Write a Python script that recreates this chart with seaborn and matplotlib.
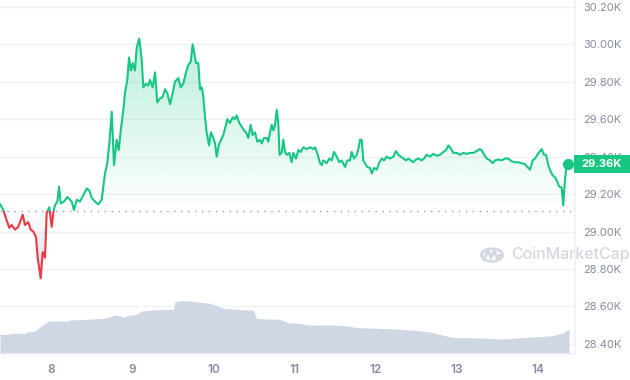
import numpy as np
import pandas as pd
import matplotlib
matplotlib.use("Agg")
import matplotlib.pyplot as plt
from matplotlib.patches import Rectangle, Circle
from matplotlib.lines import Line2D
import seaborn as sns

# Prix BTC (en milliers USD), position en jours
days = [7.372, 7.413, 7.454, 7.486, 7.516, 7.557, 7.597, 7.651, 7.680, 7.720,
        7.750, 7.782, 7.815, 7.836, 7.873, 7.898, 7.926, 7.947, 7.979, 8.009,
        8.028, 8.049, 8.078, 8.099, 8.119, 8.160, 8.201, 8.234, 8.255, 8.283,
        8.317, 8.357, 8.398, 8.440, 8.472, 8.501, 8.542, 8.583, 8.624, 8.665,
        8.693, 8.718, 8.748, 8.776, 8.809, 8.834, 8.859, 8.891, 8.911, 8.940,
        8.961, 8.985, 9.006, 9.034, 9.055, 9.087, 9.117, 9.137, 9.170, 9.198,
        9.219, 9.252, 9.281, 9.309, 9.342, 9.376, 9.404, 9.432, 9.466, 9.499,
        9.527, 9.568, 9.597, 9.629, 9.663, 9.691, 9.720, 9.745, 9.765, 9.786,
        9.814, 9.835, 9.856, 9.876, 9.897, 9.917, 9.946, 9.970, 9.999, 10.020,
        10.041, 10.065, 10.094, 10.122, 10.155, 10.171, 10.204, 10.238, 10.266, 10.287,
        10.319, 10.349, 10.377, 10.401, 10.430, 10.459, 10.484, 10.512, 10.541, 10.574,
        10.595, 10.623, 10.656, 10.676, 10.697, 10.718, 10.738, 10.759, 10.780, 10.799,
        10.814, 10.841, 10.861, 10.882, 10.903, 10.935, 10.964, 10.984, 11.017, 11.046,
        11.075, 11.107, 11.149, 11.190, 11.230, 11.251, 11.279, 11.313, 11.334, 11.353,
        11.395, 11.427, 11.457, 11.485, 11.518, 11.550, 11.580, 11.621, 11.649, 11.682,
        11.703, 11.732, 11.765, 11.790, 11.805, 11.826, 11.846, 11.867, 11.895, 11.929,
        11.950, 11.978, 12.011, 12.039, 12.073, 12.101, 12.134, 12.175, 12.216, 12.249,
        12.277, 12.307, 12.339, 12.372, 12.400, 12.430, 12.462, 12.495, 12.523, 12.565,
        12.593, 12.626, 12.667, 12.708, 12.749, 12.791, 12.831, 12.865, 12.893, 12.922,
        12.954, 12.996, 13.037, 13.078, 13.119, 13.160, 13.201, 13.243, 13.275, 13.304,
        13.333, 13.366, 13.406, 13.440, 13.468, 13.509, 13.551, 13.591, 13.632, 13.673,
        13.714, 13.755, 13.796, 13.837, 13.866, 13.899, 13.932, 13.961, 13.989, 14.014,
        14.043, 14.071, 14.096, 14.124, 14.154, 14.178, 14.207, 14.235, 14.259, 14.289,
        14.308, 14.330, 14.351, 14.371]
price = [29.147, 29.115, 29.06, 29.02, 29.035, 29.01, 29.025, 29.09, 29.035, 29.05,
         29.01, 29.00, 28.97, 28.86, 28.75, 28.89, 28.86, 29.10, 29.13, 29.025,
         29.10, 29.14, 29.16, 29.24, 29.15, 29.16, 29.185, 29.17, 29.16, 29.115,
         29.17, 29.16, 29.195, 29.23, 29.22, 29.18, 29.16, 29.145, 29.17, 29.31,
         29.365, 29.47, 29.64, 29.355, 29.49, 29.435, 29.54, 29.65, 29.74, 29.81,
         29.93, 29.86, 29.90, 29.86, 29.98, 30.03, 29.92, 29.77, 29.79, 29.78,
         29.81, 29.77, 29.85, 29.69, 29.71, 29.72, 29.76, 29.74, 29.68, 29.74,
         29.80, 29.82, 29.77, 29.79, 29.85, 29.89, 29.905, 30.00, 29.95, 29.90,
         29.90, 29.76, 29.77, 29.72, 29.61, 29.53, 29.46, 29.53, 29.50, 29.47,
         29.40, 29.46, 29.49, 29.515, 29.57, 29.60, 29.58, 29.61, 29.60, 29.62,
         29.58, 29.56, 29.54, 29.53, 29.50, 29.57, 29.515, 29.53, 29.48, 29.49,
         29.47, 29.50, 29.50, 29.48, 29.53, 29.57, 29.54, 29.57, 29.65, 29.58,
         29.41, 29.42, 29.49, 29.425, 29.41, 29.42, 29.37, 29.42, 29.39, 29.435,
         29.425, 29.45, 29.44, 29.45, 29.44, 29.45, 29.42, 29.365, 29.355, 29.38,
         29.365, 29.39, 29.38, 29.425, 29.40, 29.37, 29.38, 29.345, 29.38, 29.38,
         29.425, 29.39, 29.41, 29.45, 29.49, 29.49, 29.38, 29.365, 29.345, 29.34,
         29.31, 29.34, 29.33, 29.365, 29.39, 29.38, 29.40, 29.39, 29.40, 29.43,
         29.41, 29.40, 29.39, 29.38, 29.39, 29.38, 29.37, 29.385, 29.39, 29.38,
         29.39, 29.41, 29.40, 29.415, 29.405, 29.41, 29.425, 29.435, 29.46, 29.445,
         29.42, 29.42, 29.41, 29.42, 29.415, 29.42, 29.42, 29.43, 29.44, 29.435,
         29.41, 29.39, 29.38, 29.365, 29.38, 29.385, 29.38, 29.39, 29.39, 29.375,
         29.37, 29.37, 29.365, 29.36, 29.345, 29.33, 29.38, 29.39, 29.41, 29.425,
         29.44, 29.41, 29.41, 29.355, 29.32, 29.30, 29.29, 29.265, 29.24, 29.235,
         29.14, 29.28, 29.355, 29.36]
base_price = 29.11
last_label = "29.36K"

# Volume (Mds USD, estimé)
vol_days = [7.372, 7.474, 7.495, 7.680, 7.701, 7.782, 7.824, 7.885, 7.947, 7.988,
            8.193, 8.234, 8.440, 8.644, 8.727, 8.788, 8.850, 8.890, 8.932, 9.055,
            9.117, 9.260, 9.425, 9.507, 9.527, 9.589, 9.712, 9.835, 9.958, 10.041,
            10.122, 10.287, 10.491, 10.533, 10.656, 10.820, 10.922, 11.046, 11.169, 11.498,
            11.621, 11.785, 12.031, 12.319, 12.523, 12.688, 12.852, 12.975, 13.181, 13.345,
            13.591, 13.755, 14.001, 14.166, 14.289, 14.379]
volume = [6.57, 6.57, 6.9, 6.9, 7.43, 7.43, 8.0, 9.43, 10.57, 11.0,
          11.0, 11.33, 11.57, 11.9, 12.43, 13.0, 12.67, 12.23, 12.77, 13.23,
          14.33, 14.67, 14.9, 14.9, 17.43, 17.77, 17.67, 17.23, 16.9, 16.1,
          15.23, 14.9, 14.57, 11.9, 11.67, 11.57, 10.43, 10.23, 9.67, 9.67,
          9.43, 8.77, 8.57, 8.23, 7.77, 7.23, 6.1, 5.43, 5.43, 5.23,
          5.0, 5.43, 5.77, 6.1, 6.9, 8.23]
vol_top = 118

y_ticks = [28.4, 28.6, 28.8, 29.0, 29.2, 29.4, 29.6, 29.8, 30.0, 30.2]
x_ticks = [8, 9, 10, 11, 12, 13, 14]

GREEN = "#16c784"
RED = "#ea3943"
GRID = "#eff2f5"
TXT = "#858ca2"

sns.set_theme(style="white")
plt.rcParams["font.family"] = ["Inter", "DejaVu Sans"]

df = pd.DataFrame({"day": days, "price": price})
x0, x1 = 7.372, 14.453
y0, y1 = 28.346, 30.2366

fig = plt.figure(figsize=(6.3, 3.8), dpi=100)
ax = fig.add_axes([0, 26 / 380, 575 / 630, 354 / 380])
ax.set_axisbelow(True)

# volume en arrière-plan (y en fraction d'axe)
ax.fill_between(vol_days, np.array(volume) / vol_top, 0, transform=ax.get_xaxis_transform(),
                color="#cfd6e4", lw=0, zorder=1)

p = np.array(price)
d = np.array(days)

# dégradé vert au-dessus de la référence
up = ax.fill_between(d, np.maximum(p, base_price), base_price, color="none", lw=0)
g = np.zeros((256, 1, 4))
g[..., 0], g[..., 1], g[..., 2] = 22 / 255, 199 / 255, 132 / 255
g[:, 0, 3] = np.linspace(0.0, 0.3, 256)
im = ax.imshow(g, extent=[x0, x1, base_price, 30.05], origin="lower", aspect="auto", zorder=2)
im.set_clip_path(up.get_paths()[0], transform=ax.transData)

# dégradé gris sous la référence
dn = ax.fill_between(d, np.minimum(p, base_price), base_price, color="none", lw=0)
g2 = np.zeros((256, 1, 4))
g2[..., 0], g2[..., 1], g2[..., 2] = 0.62, 0.66, 0.74
g2[:, 0, 3] = np.linspace(0.45, 0.0, 256)
im2 = ax.imshow(g2, extent=[x0, x1, 28.74, base_price], origin="lower", aspect="auto", zorder=2)
im2.set_clip_path(dn.get_paths()[0], transform=ax.transData)

# ligne de prix : verte au-dessus, rouge en dessous
sns.lineplot(data=df, x="day", y="price", ax=ax, color=GREEN, lw=1.5, zorder=4)
sns.lineplot(data=df, x="day", y="price", ax=ax, color=RED, lw=1.5, zorder=4)
ax.lines[0].set_clip_path(Rectangle((x0, base_price), x1 - x0, 5, transform=ax.transData))
ax.lines[1].set_clip_path(Rectangle((x0, base_price - 5), x1 - x0, 5, transform=ax.transData))
ax.plot([days[-1]], [price[-1]], "o", color=GREEN, ms=7, zorder=5)

ax.axhline(base_price, color="#9aa0ab", lw=1, ls=(0, (1, 4)), zorder=3)

ax.set_xlim(x0, x1)
ax.set_ylim(y0, y1)
ax.set_xlabel("")
ax.set_ylabel("")
ax.set_xticks(x_ticks)
ax.set_xticklabels([str(t) for t in x_ticks])
ax.set_yticks(y_ticks)
ax.set_yticklabels([f"{t:.2f}K" for t in y_ticks])
ax.yaxis.tick_right()
ax.grid(axis="y", color=GRID, lw=1)
ax.grid(axis="x", visible=False)
ax.tick_params(axis="y", length=0, pad=6, labelsize=8, labelcolor=TXT)
ax.tick_params(axis="x", length=2.5, width=0.8, color="#d5d9e0", pad=5, labelsize=8.5, labelcolor=TXT)
for lab in ax.get_xticklabels():
    lab.set_fontweight("semibold")
for s in ["top", "left"]:
    ax.spines[s].set_visible(False)
ax.spines["right"].set_color(GRID)
ax.spines["bottom"].set_color(GRID)
ax.patch.set_visible(False)


def px(x, y):
    return x / 630, 1 - y / 380


# étiquette du dernier prix
fig.patches.append(Rectangle(px(574, 173.5), 56 / 630, 18.5 / 380, transform=fig.transFigure,
                             color=GREEN, lw=0, zorder=10))
fig.text(*px(601, 164.5), last_label, color="white", fontsize=8, fontweight="bold",
         ha="center", va="center", zorder=11)

# filigrane
WM = "#d3d8e0"
fig.text(*px(511, 255), "CoinMarketCap", color=WM, fontsize=11.5, fontweight="medium",
         ha="left", va="center")
fig.patches.append(Circle(px(492, 255), 10.5 / 630, transform=fig.transFigure, fill=False,
                          ec=WM, lw=2))
wave_x = [484, 488, 491, 494, 497, 500]
wave_y = [260, 250, 258, 250, 258, 255]
fig.lines.append(Line2D([v / 630 for v in wave_x], [1 - v / 380 for v in wave_y],
                        transform=fig.transFigure, color=WM, lw=2))

fig.savefig("out.png", dpi=100)
